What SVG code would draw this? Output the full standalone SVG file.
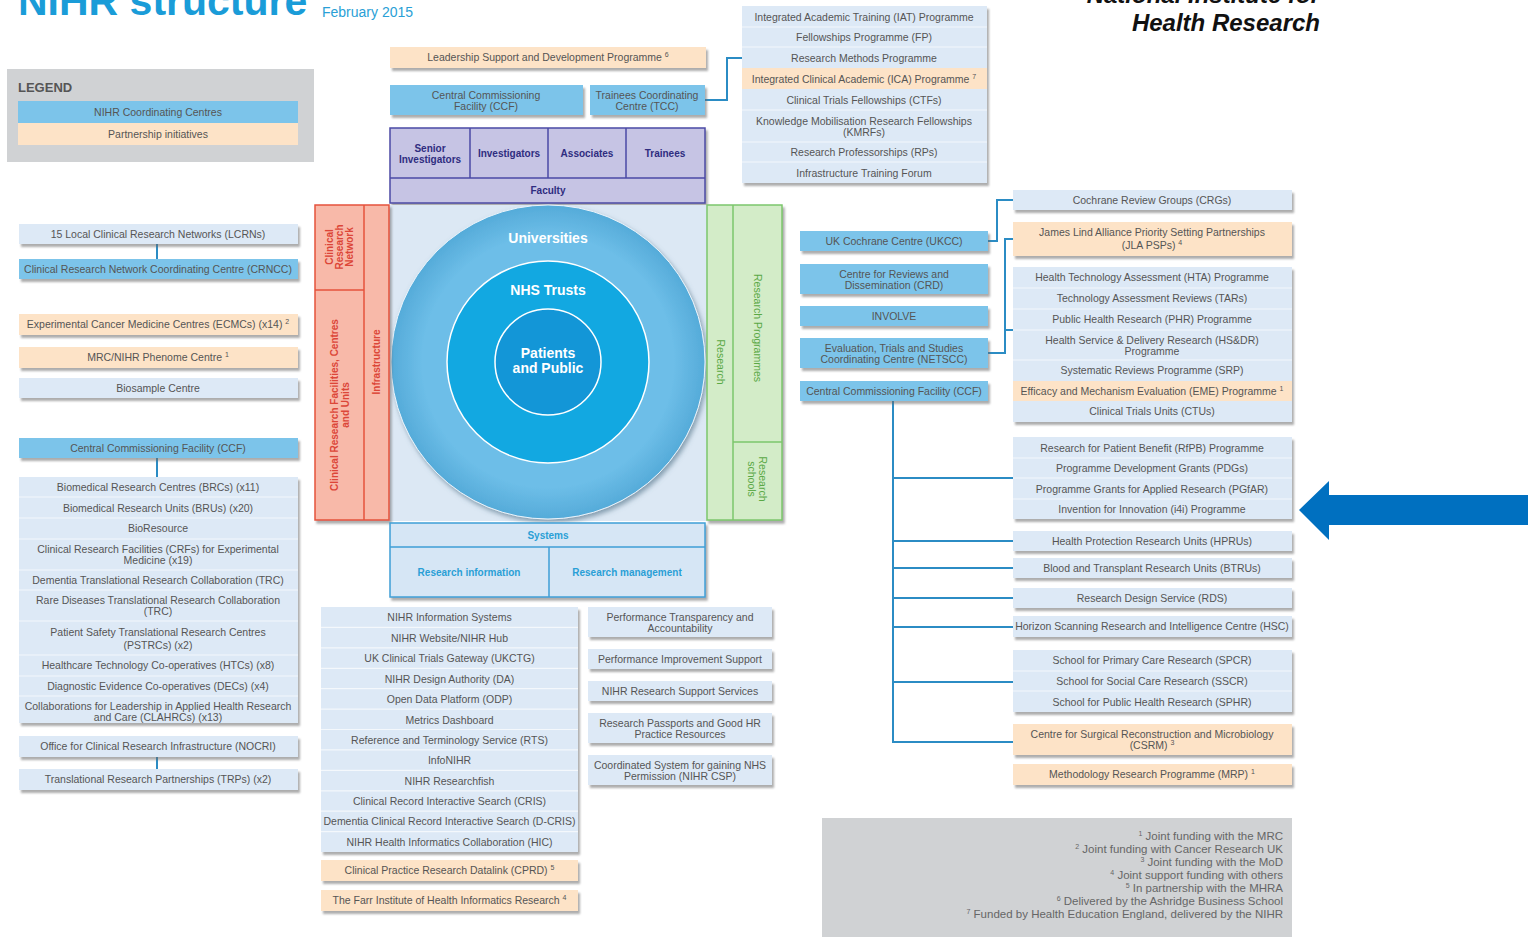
<svg xmlns="http://www.w3.org/2000/svg" width="1528" height="937" viewBox="0 0 1528 937">
<defs>
<filter id="sh" x="-5%" y="-10%" width="115%" height="140%"><feDropShadow dx="2" dy="3" stdDeviation="1.2" flood-color="#6a6a6a" flood-opacity="0.55"/></filter>
<filter id="csh" x="-10%" y="-10%" width="125%" height="125%"><feDropShadow dx="2" dy="3" stdDeviation="2.5" flood-color="#4a6a80" flood-opacity="0.6"/></filter>
<radialGradient id="outerG" cx="0.5" cy="0.5" r="0.5">
<stop offset="0.8" stop-color="#6dbee8"/>
<stop offset="1" stop-color="#55abd9"/>
</radialGradient>
<style>
.lb{fill:#dde9f6}
.cb{fill:#7cc4ea}
.pe{fill:#fde3c7}
.t{font-family:"Liberation Sans",Arial,sans-serif;font-size:10.5px;fill:#555;text-anchor:middle}
.sep{stroke:#f4f8fc;stroke-width:1.2}
.conn{stroke:#2b8cc4;stroke-width:2;fill:none}
.fac{font-family:"Liberation Sans",Arial,sans-serif;font-size:10px;font-weight:bold;fill:#2f2d80;text-anchor:middle}
.sys{font-family:"Liberation Sans",Arial,sans-serif;font-size:10px;font-weight:bold;fill:#2a9fd6;text-anchor:middle}
.red{font-family:"Liberation Sans",Arial,sans-serif;font-size:10px;font-weight:bold;fill:#dc4638;text-anchor:middle}
.grn{font-family:"Liberation Sans",Arial,sans-serif;font-size:10.5px;fill:#5aa845;text-anchor:middle}
.circ{font-family:"Liberation Sans",Arial,sans-serif;font-size:14px;font-weight:bold;fill:#fff;text-anchor:middle}
.fn{font-family:"Liberation Sans",Arial,sans-serif;font-size:11.5px;fill:#666;text-anchor:end}
</style>
</defs>
<rect width="1528" height="937" fill="#fff"/>

<g id="title">
<text x="18" y="15" font-family="Liberation Sans,Arial,sans-serif" font-size="41" font-weight="bold" fill="#1a9cd8">NIHR structure</text>
<text x="322" y="17" font-family="Liberation Sans,Arial,sans-serif" font-size="14" fill="#2a9fd6">February 2015</text>
</g>
<g id="logo">
<text x="1320" y="3" font-family="Liberation Sans,Arial,sans-serif" font-size="24" font-weight="bold" font-style="italic" fill="#111" text-anchor="end">National Institute for</text>
<text x="1320" y="31" font-family="Liberation Sans,Arial,sans-serif" font-size="24" font-weight="bold" font-style="italic" fill="#111" text-anchor="end">Health Research</text>
</g>

<g id="legend">
<rect x="7" y="69" width="307" height="93" fill="#d0d2d4"/>
<text x="18" y="92" font-family="Liberation Sans,Arial,sans-serif" font-size="13" font-weight="bold" fill="#555">LEGEND</text>
<rect x="18" y="101" width="280" height="22" class="cb"/>
<text x="158" y="116" class="t">NIHR Coordinating Centres</text>
<rect x="18" y="123" width="280" height="22" class="pe"/>
<text x="158" y="138" class="t">Partnership initiatives</text>
</g>

<g id="connectors">
<line x1="157" y1="244" x2="157" y2="259" class="conn"/>
<line x1="157" y1="458" x2="157" y2="477" class="conn"/>
<line x1="157" y1="757" x2="157" y2="769" class="conn"/>
<path d="M705,100 H727 V58 H742" class="conn"/>
<path d="M988,241 H997 V200 H1013" class="conn"/>
<path d="M988,353 H1005 V239 H1013 M1005,330 H1013" class="conn"/>
<path d="M893,401 V742 H1013 M893,478 H1013 M893,541 H1013 M893,568 H1013 M893,598 H1013 M893,627 H1013 M893,682 H1013" class="conn"/>
</g>

<g id="lcrn"><rect x="19" y="224" width="279" height="20" class="lb" filter="url(#sh)"/><text x="158" y="238" class="t">15 Local Clinical Research Networks (LCRNs)</text></g>
<g id="crncc"><rect x="19" y="259" width="279" height="20" class="cb" filter="url(#sh)"/><text x="158" y="273" class="t">Clinical Research Network Coordinating Centre (CRNCC)</text></g>
<g id="ecmc"><rect x="19" y="314" width="279" height="21" class="pe" filter="url(#sh)"/><text x="158" y="328" class="t">Experimental Cancer Medicine Centres (ECMCs) (x14) <tspan font-size="7" dy="-4">2</tspan></text></g>
<g id="phenome"><rect x="19" y="347" width="279" height="21" class="pe" filter="url(#sh)"/><text x="158" y="361" class="t">MRC/NIHR Phenome Centre <tspan font-size="7" dy="-4">1</tspan></text></g>
<g id="biosample"><rect x="19" y="378" width="279" height="20" class="lb" filter="url(#sh)"/><text x="158" y="392" class="t">Biosample Centre</text></g>
<g id="ccf-left"><rect x="19" y="438" width="279" height="20" class="cb" filter="url(#sh)"/><text x="158" y="452" class="t">Central Commissioning Facility (CCF)</text></g>
<g id="ccf-list">
<rect x="19" y="477" width="279" height="246" class="lb" filter="url(#sh)"/>
<path d="M19,497 H298 M19,518 H298 M19,539 H298 M19,570 H298 M19,590 H298 M19,621 H298 M19,655 H298 M19,676 H298 M19,696 H298" class="sep"/>
<text x="158" y="491" class="t">Biomedical Research Centres (BRCs) (x11)</text>
<text x="158" y="512" class="t">Biomedical Research Units (BRUs) (x20)</text>
<text x="158" y="532" class="t">BioResource</text>
<text x="158" y="553" class="t">Clinical Research Facilities (CRFs) for Experimental</text>
<text x="158" y="564" class="t">Medicine (x19)</text>
<text x="158" y="584" class="t">Dementia Translational Research Collaboration (TRC)</text>
<text x="158" y="604" class="t">Rare Diseases Translational Research Collaboration</text>
<text x="158" y="615" class="t">(TRC)</text>
<text x="158" y="636" class="t">Patient Safety Translational Research Centres</text>
<text x="158" y="649" class="t">(PSTRCs) (x2)</text>
<text x="158" y="669" class="t">Healthcare Technology Co-operatives (HTCs) (x8)</text>
<text x="158" y="690" class="t">Diagnostic Evidence Co-operatives (DECs) (x4)</text>
<text x="158" y="710" class="t">Collaborations for Leadership in Applied Health Research</text>
<text x="158" y="721" class="t">and Care (CLAHRCs) (x13)</text>
</g>
<g id="nocri"><rect x="19" y="736" width="279" height="21" class="lb" filter="url(#sh)"/><text x="158" y="750" class="t">Office for Clinical Research Infrastructure (NOCRI)</text></g>
<g id="trps"><rect x="19" y="769" width="279" height="21" class="lb" filter="url(#sh)"/><text x="158" y="783" class="t">Translational Research Partnerships (TRPs) (x2)</text></g>

<g id="leadership"><rect x="390" y="47" width="316" height="21" class="pe" filter="url(#sh)"/><text x="548" y="61" class="t">Leadership Support and Development Programme <tspan font-size="7" dy="-4">6</tspan></text></g>
<g id="ccf-top"><rect x="390" y="85" width="193" height="30" class="cb" filter="url(#sh)"/><text x="486" y="99" class="t">Central Commissioning</text><text x="486" y="109.5" class="t">Facility (CCF)</text></g>
<g id="tcc"><rect x="590" y="85" width="115" height="30" class="cb" filter="url(#sh)"/><text x="647" y="99" class="t">Trainees Coordinating</text><text x="647" y="109.5" class="t">Centre (TCC)</text></g>

<g id="faculty">
<rect x="390" y="128" width="315" height="75" fill="#c6c4e4" stroke="#4b49a5" stroke-width="1.5" filter="url(#sh)"/>
<path d="M390,178 H705 M470,128 V178 M548,128 V178 M626,128 V178" stroke="#4b49a5" stroke-width="1.5" fill="none"/>
<text x="430" y="152" class="fac">Senior</text>
<text x="430" y="163" class="fac">Investigators</text>
<text x="509" y="157" class="fac">Investigators</text>
<text x="587" y="157" class="fac">Associates</text>
<text x="665" y="157" class="fac">Trainees</text>
<text x="548" y="194" class="fac">Faculty</text>
</g>

<g id="training-list">
<rect x="742" y="6" width="245" height="177" class="lb" filter="url(#sh)"/>
<rect x="742" y="68" width="245" height="21" class="pe"/>
<path d="M742,27 H987 M742,47 H987 M742,110 H987 M742,142 H987 M742,162 H987" class="sep"/>
<text x="864" y="21" class="t">Integrated Academic Training (IAT) Programme</text>
<text x="864" y="41" class="t">Fellowships Programme (FP)</text>
<text x="864" y="62" class="t">Research Methods Programme</text>
<text x="864" y="83" class="t">Integrated Clinical Academic (ICA) Programme <tspan font-size="7" dy="-4">7</tspan></text>
<text x="864" y="104" class="t">Clinical Trials Fellowships (CTFs)</text>
<text x="864" y="125" class="t">Knowledge Mobilisation Research Fellowships</text>
<text x="864" y="135.5" class="t">(KMRFs)</text>
<text x="864" y="156" class="t">Research Professorships (RPs)</text>
<text x="864" y="177" class="t">Infrastructure Training Forum</text>
</g>

<g id="core">
<rect x="390" y="205" width="317" height="316" fill="#dce8f4"/>
<circle cx="548" cy="362" r="157" fill="url(#outerG)" stroke="#e8f3fb" stroke-width="1" filter="url(#csh)"/>
<circle cx="548" cy="362" r="101" fill="#12a8e1" stroke="#ffffff" stroke-width="1.5"/>
<circle cx="548" cy="362" r="53" fill="#1396d7" stroke="#ffffff" stroke-width="1.5"/>
<text x="548" y="243" class="circ">Universities</text>
<text x="548" y="295" class="circ">NHS Trusts</text>
<text x="548" y="358" class="circ">Patients</text>
<text x="548" y="373" class="circ">and Public</text>
</g>

<g id="infrastructure">
<rect x="315" y="205" width="74" height="315" fill="#f8b9a9" stroke="#e5533d" stroke-width="1.5" filter="url(#sh)"/>
<path d="M364,205 V520 M315,290 H364" stroke="#e5533d" stroke-width="1.5" fill="none"/>
<g transform="translate(339,247) rotate(-90)">
<text x="0" y="-6.5" class="red">Clinical</text>
<text x="0" y="3.5" class="red">Research</text>
<text x="0" y="13.5" class="red">Network</text>
</g>
<g transform="translate(339.5,405) rotate(-90)">
<text x="0" y="-2" class="red">Clinical Research Facilities, Centres</text>
<text x="0" y="9" class="red">and Units</text>
</g>
<text transform="translate(376.5,362) rotate(-90)" x="0" y="3.5" class="red">Infrastructure</text>
</g>

<g id="research">
<rect x="707" y="205" width="75" height="315" fill="#d3ecc8" stroke="#7cc66c" stroke-width="1.5" filter="url(#sh)"/>
<path d="M733,205 V520 M733,442 H782" stroke="#7cc66c" stroke-width="1.5" fill="none"/>
<text transform="translate(720,362) rotate(90)" x="0" y="3.5" class="grn">Research</text>
<text transform="translate(757,328) rotate(90)" x="0" y="3.5" class="grn">Research Programmes</text>
<g transform="translate(757,479) rotate(90)">
<text x="0" y="-2" class="grn">Research</text>
<text x="0" y="9" class="grn">schools</text>
</g>
</g>

<g id="systems">
<rect x="390" y="523" width="315" height="74" fill="#d6e6f5" stroke="#3f9fd6" stroke-width="1.5" filter="url(#sh)"/>
<path d="M390,547 H705 M549,547 V597" stroke="#3f9fd6" stroke-width="1.5" fill="none"/>
<text x="548" y="539" class="sys">Systems</text>
<text x="469" y="576" class="sys">Research information</text>
<text x="627" y="576" class="sys">Research management</text>
</g>

<g id="research-info-list">
<rect x="321" y="607" width="257" height="245" class="lb" filter="url(#sh)"/>
<path d="M321,627.4 H578 M321,647.8 H578 M321,668.3 H578 M321,688.7 H578 M321,709.1 H578 M321,729.5 H578 M321,749.9 H578 M321,770.3 H578 M321,790.8 H578 M321,811.2 H578 M321,831.6 H578" class="sep"/>
<text x="449.5" y="621" class="t">NIHR Information Systems</text>
<text x="449.5" y="642" class="t">NIHR Website/NIHR Hub</text>
<text x="449.5" y="662" class="t">UK Clinical Trials Gateway (UKCTG)</text>
<text x="449.5" y="683" class="t">NIHR Design Authority (DA)</text>
<text x="449.5" y="703" class="t">Open Data Platform (ODP)</text>
<text x="449.5" y="724" class="t">Metrics Dashboard</text>
<text x="449.5" y="744" class="t">Reference and Terminology Service (RTS)</text>
<text x="449.5" y="764" class="t">InfoNIHR</text>
<text x="449.5" y="785" class="t">NIHR Researchfish</text>
<text x="449.5" y="805" class="t">Clinical Record Interactive Search (CRIS)</text>
<text x="449.5" y="825" class="t">Dementia Clinical Record Interactive Search (D-CRIS)</text>
<text x="449.5" y="846" class="t">NIHR Health Informatics Collaboration (HIC)</text>
</g>
<g id="cprd"><rect x="321" y="860" width="257" height="21" class="pe" filter="url(#sh)"/><text x="449.5" y="874" class="t">Clinical Practice Research Datalink (CPRD) <tspan font-size="7" dy="-4">5</tspan></text></g>
<g id="farr"><rect x="321" y="890" width="257" height="21" class="pe" filter="url(#sh)"/><text x="449.5" y="904" class="t">The Farr Institute of Health Informatics Research <tspan font-size="7" dy="-4">4</tspan></text></g>

<g id="pta"><rect x="588" y="607" width="184" height="30" class="lb" filter="url(#sh)"/><text x="680" y="621" class="t">Performance Transparency and</text><text x="680" y="631.5" class="t">Accountability</text></g>
<g id="pis"><rect x="588" y="649" width="184" height="20" class="lb" filter="url(#sh)"/><text x="680" y="663" class="t">Performance Improvement Support</text></g>
<g id="rss"><rect x="588" y="681" width="184" height="20" class="lb" filter="url(#sh)"/><text x="680" y="695" class="t">NIHR Research Support Services</text></g>
<g id="passports"><rect x="588" y="713" width="184" height="30" class="lb" filter="url(#sh)"/><text x="680" y="727" class="t">Research Passports and Good HR</text><text x="680" y="737.5" class="t">Practice Resources</text></g>
<g id="csp"><rect x="588" y="755" width="184" height="30" class="lb" filter="url(#sh)"/><text x="680" y="769" class="t">Coordinated System for gaining NHS</text><text x="680" y="779.5" class="t">Permission (NIHR CSP)</text></g>

<g id="ukcc"><rect x="800" y="231" width="188" height="20" class="cb" filter="url(#sh)"/><text x="894" y="245" class="t">UK Cochrane Centre (UKCC)</text></g>
<g id="crd"><rect x="800" y="264" width="188" height="30" class="cb" filter="url(#sh)"/><text x="894" y="278" class="t">Centre for Reviews and</text><text x="894" y="288.5" class="t">Dissemination (CRD)</text></g>
<g id="involve"><rect x="800" y="306" width="188" height="20" class="cb" filter="url(#sh)"/><text x="894" y="320" class="t">INVOLVE</text></g>
<g id="netscc"><rect x="800" y="338" width="188" height="30" class="cb" filter="url(#sh)"/><text x="894" y="352" class="t">Evaluation, Trials and Studies</text><text x="894" y="362.5" class="t">Coordinating Centre (NETSCC)</text></g>
<g id="ccf-right"><rect x="800" y="381" width="188" height="20" class="cb" filter="url(#sh)"/><text x="894" y="395" class="t">Central Commissioning Facility (CCF)</text></g>

<g id="crg"><rect x="1013" y="190" width="279" height="20" class="lb" filter="url(#sh)"/><text x="1152" y="204" class="t">Cochrane Review Groups (CRGs)</text></g>
<g id="jla"><rect x="1013" y="222" width="279" height="34" class="pe" filter="url(#sh)"/><text x="1152" y="236" class="t">James Lind Alliance Priority Setting Partnerships</text><text x="1152" y="249" class="t">(JLA PSPs) <tspan font-size="7" dy="-4">4</tspan></text></g>
<g id="netscc-programmes">
<rect x="1013" y="267" width="279" height="155" class="lb" filter="url(#sh)"/>
<rect x="1013" y="381" width="279" height="20" class="pe"/>
<path d="M1013,288 H1292 M1013,309 H1292 M1013,330 H1292 M1013,360 H1292" class="sep"/>
<text x="1152" y="281" class="t">Health Technology Assessment (HTA) Programme</text>
<text x="1152" y="302" class="t">Technology Assessment Reviews (TARs)</text>
<text x="1152" y="323" class="t">Public Health Research (PHR) Programme</text>
<text x="1152" y="344" class="t">Health Service &amp; Delivery Research (HS&amp;DR)</text>
<text x="1152" y="354.5" class="t">Programme</text>
<text x="1152" y="374" class="t">Systematic Reviews Programme (SRP)</text>
<text x="1152" y="395" class="t">Efficacy and Mechanism Evaluation (EME) Programme <tspan font-size="7" dy="-4">1</tspan></text>
<text x="1152" y="415" class="t">Clinical Trials Units (CTUs)</text>
</g>
<g id="ccf-programmes">
<rect x="1013" y="437" width="279" height="82" class="lb" filter="url(#sh)"/>
<path d="M1013,458 H1292 M1013,478 H1292 M1013,499 H1292" class="sep"/>
<text x="1152" y="452" class="t">Research for Patient Benefit (RfPB) Programme</text>
<text x="1152" y="472" class="t">Programme Development Grants (PDGs)</text>
<text x="1152" y="493" class="t">Programme Grants for Applied Research (PGfAR)</text>
<text x="1152" y="513" class="t">Invention for Innovation (i4i) Programme</text>
</g>
<g id="hpru"><rect x="1013" y="531" width="279" height="20" class="lb" filter="url(#sh)"/><text x="1152" y="545" class="t">Health Protection Research Units (HPRUs)</text></g>
<g id="btru"><rect x="1013" y="558" width="279" height="20" class="lb" filter="url(#sh)"/><text x="1152" y="572" class="t">Blood and Transplant Research Units (BTRUs)</text></g>
<g id="rds"><rect x="1013" y="588" width="279" height="20" class="lb" filter="url(#sh)"/><text x="1152" y="602" class="t">Research Design Service (RDS)</text></g>
<g id="hsc"><rect x="1013" y="616" width="279" height="21" class="lb" filter="url(#sh)"/><text x="1152" y="630" class="t">Horizon Scanning Research and Intelligence Centre (HSC)</text></g>
<g id="schools">
<rect x="1013" y="650" width="279" height="62" class="lb" filter="url(#sh)"/>
<path d="M1013,671 H1292 M1013,691 H1292" class="sep"/>
<text x="1152" y="664" class="t">School for Primary Care Research (SPCR)</text>
<text x="1152" y="685" class="t">School for Social Care Research (SSCR)</text>
<text x="1152" y="706" class="t">School for Public Health Research (SPHR)</text>
</g>
<g id="csrm"><rect x="1013" y="724" width="279" height="31" class="pe" filter="url(#sh)"/><text x="1152" y="738" class="t">Centre for Surgical Reconstruction and Microbiology</text><text x="1152" y="748.5" class="t">(CSRM) <tspan font-size="7" dy="-4">3</tspan></text></g>
<g id="mrp"><rect x="1013" y="764" width="279" height="21" class="pe" filter="url(#sh)"/><text x="1152" y="778" class="t">Methodology Research Programme (MRP) <tspan font-size="7" dy="-4">1</tspan></text></g>

<g id="footnotes">
<rect x="822" y="818" width="470" height="119" fill="#d0d2d4"/>
<text x="1283" y="840" class="fn"><tspan font-size="7" dy="-4">1</tspan><tspan dy="4"> Joint funding with the MRC</tspan></text>
<text x="1283" y="853" class="fn"><tspan font-size="7" dy="-4">2</tspan><tspan dy="4"> Joint funding with Cancer Research UK</tspan></text>
<text x="1283" y="866" class="fn"><tspan font-size="7" dy="-4">3</tspan><tspan dy="4"> Joint funding with the MoD</tspan></text>
<text x="1283" y="879" class="fn"><tspan font-size="7" dy="-4">4</tspan><tspan dy="4"> Joint support funding with others</tspan></text>
<text x="1283" y="892" class="fn"><tspan font-size="7" dy="-4">5</tspan><tspan dy="4"> In partnership with the MHRA</tspan></text>
<text x="1283" y="905" class="fn"><tspan font-size="7" dy="-4">6</tspan><tspan dy="4"> Delivered by the Ashridge Business School</tspan></text>
<text x="1283" y="918" class="fn"><tspan font-size="7" dy="-4">7</tspan><tspan dy="4"> Funded by Health Education England, delivered by the NIHR</tspan></text>
</g>

<g id="pointer-arrow">
<polygon points="1528,495 1329,495 1329,481 1299,510 1329,540 1329,525 1528,525" fill="#0070c0"/>
</g>
</svg>
